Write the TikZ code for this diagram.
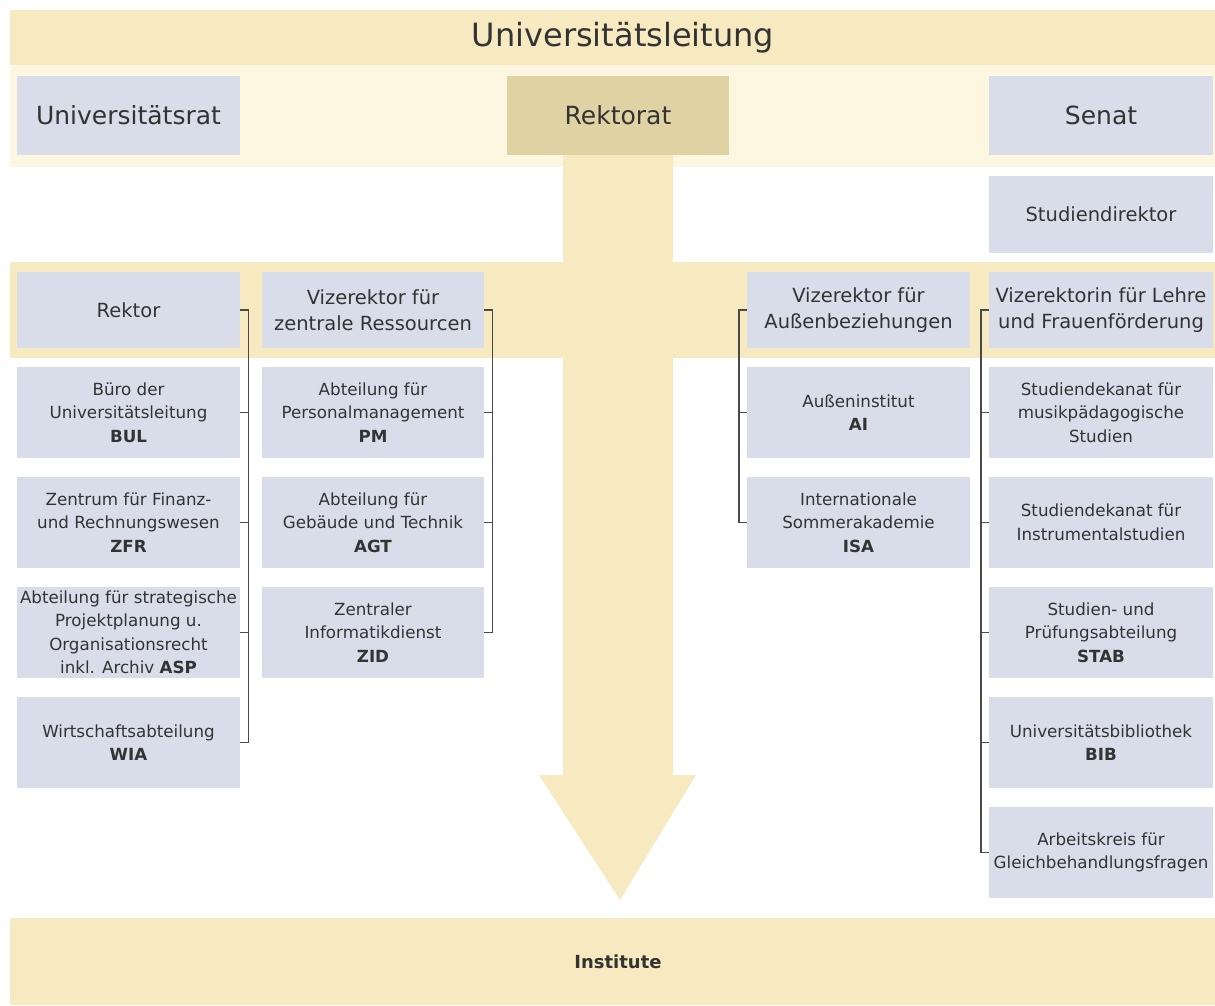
\documentclass[tikz,border=0pt]{standalone}
\usepackage{fontspec}
\setmainfont{DejaVu Sans}
\definecolor{band}{HTML}{F7EAC0}
\definecolor{lightband}{HTML}{FDF6E0}
\definecolor{boxc}{HTML}{D9DDEA}
\definecolor{rekt}{HTML}{E0D3A3}
\definecolor{txt}{HTML}{333333}
\definecolor{conn}{HTML}{4A4A4A}
\tikzset{
  orgbox/.style={fill=boxc, inner sep=0pt, align=center, text=txt,
    font=\fontsize{16.7}{23.5}\selectfont, minimum height=91pt},
  bigbox/.style={orgbox, font=\fontsize{25}{30}\selectfont, minimum height=79pt},
  midbox/.style={orgbox, font=\fontsize{19.5}{26}\selectfont, minimum height=76pt},
  colA/.style={minimum width=223pt},
  colB/.style={minimum width=222pt},
  colC/.style={minimum width=223pt},
  colD/.style={minimum width=224pt},
  link/.style={draw=conn, line width=1.4pt},
  bandtext/.style={inner sep=0pt, text=txt},
}
\begin{document}
\begin{tikzpicture}[x=1pt, y=-1pt]
\useasboundingbox (0,0) rectangle (1215,1005);
\fill[white] (0,0) rectangle (1215,1005);
% bands
\fill[band] (10,10) rectangle (1215,65);
\fill[lightband] (10,65) rectangle (1215,167);
\fill[band] (10,262) rectangle (1215,358);
\fill[band] (10,918) rectangle (1215,1005);
% big arrow
\fill[band] (563,155) -- (673,155) -- (673,775) -- (696,775) -- (620,900)
  -- (539,775) -- (563,775) -- cycle;
% titles
\node[bandtext, font=\fontsize{32}{36}\selectfont] (leitung) at (623,37.5) {Universitätsleitung};
\node[bandtext, font=\bfseries\fontsize{18}{21}\selectfont] (inst) at (618,962) {Institute};
% top row
\node[bigbox, colA] (rat) at (128.5,115.5) {Universitätsrat};
\node[bigbox, colB, fill=rekt] (rektorat) at (618,115.5) {Rektorat};
\node[bigbox, colD] (senat) at (1101,115.5) {Senat};
\node[midbox, colD, minimum height=77pt] (sdir) at (1101,214.5) {Studiendirektor};
% vice-rector row
\node[midbox, colA] (rektor) at (128.5,310) {Rektor};
\node[midbox, colB] (vzr) at (373,310) {Vizerektor für\\zentrale Ressourcen};
\node[midbox, colC] (vaus) at (858.5,310) {Vizerektor für\\Außenbeziehungen};
\node[midbox, colD] (vlehre) at (1101,310) {Vizerektorin für Lehre\\und Frauenförderung};
% column A
\node[orgbox, colA] (bul) at (128.5,412.5) {Büro der\\Universitätsleitung\\\textbf{BUL}};
\node[orgbox, colA] (zfr) at (128.5,522.5) {Zentrum für Finanz-\\und Rechnungswesen\\\textbf{ZFR}};
\node[orgbox, colA] (asp) at (128.5,632.5) {Abteilung für strategische\\Projektplanung u.\\Organisationsrecht\\inkl. Archiv \textbf{ASP}};
\node[orgbox, colA] (wia) at (128.5,742.5) {Wirtschaftsabteilung\\\textbf{WIA}};
% column B
\node[orgbox, colB] (pm) at (373,412.5) {Abteilung für\\Personalmanagement\\\textbf{PM}};
\node[orgbox, colB] (agt) at (373,522.5) {Abteilung für\\Gebäude und Technik\\\textbf{AGT}};
\node[orgbox, colB] (zid) at (373,632.5) {Zentraler\\Informatikdienst\\\textbf{ZID}};
% column C
\node[orgbox, colC] (ai) at (858.5,412.5) {Außeninstitut\\\textbf{AI}};
\node[orgbox, colC] (isa) at (858.5,522.5) {Internationale\\Sommerakademie\\\textbf{ISA}};
% column D
\node[orgbox, colD] (sdm) at (1101,412.5) {Studiendekanat für\\musikpädagogische\\Studien};
\node[orgbox, colD] (sdi) at (1101,522.5) {Studiendekanat für\\Instrumentalstudien};
\node[orgbox, colD] (stab) at (1101,632.5) {Studien- und\\Prüfungsabteilung\\\textbf{STAB}};
\node[orgbox, colD] (bib) at (1101,742.5) {Universitätsbibliothek\\\textbf{BIB}};
\node[orgbox, colD] (akg) at (1101,852.5) {Arbeitskreis für\\Gleichbehandlungsfragen};
% connectors
\draw[link] (rektor.east) -- ++(8,0) coordinate (la) |- (wia.east);
\foreach \n in {bul,zfr,asp} \draw[link] (\n.east) -- (\n.east -| la);
\draw[link] (vzr.east) -- ++(8,0) coordinate (lb) |- (zid.east);
\foreach \n in {pm,agt} \draw[link] (\n.east) -- (\n.east -| lb);
\draw[link] (vaus.west) -- ++(-8,0) coordinate (lc) |- (isa.west);
\draw[link] (ai.west) -- (ai.west -| lc);
\draw[link] (vlehre.west) -- ++(-8,0) coordinate (ld) |- (akg.west);
\foreach \n in {sdm,sdi,stab,bib} \draw[link] (\n.west) -- (\n.west -| ld);
\end{tikzpicture}
\end{document}
